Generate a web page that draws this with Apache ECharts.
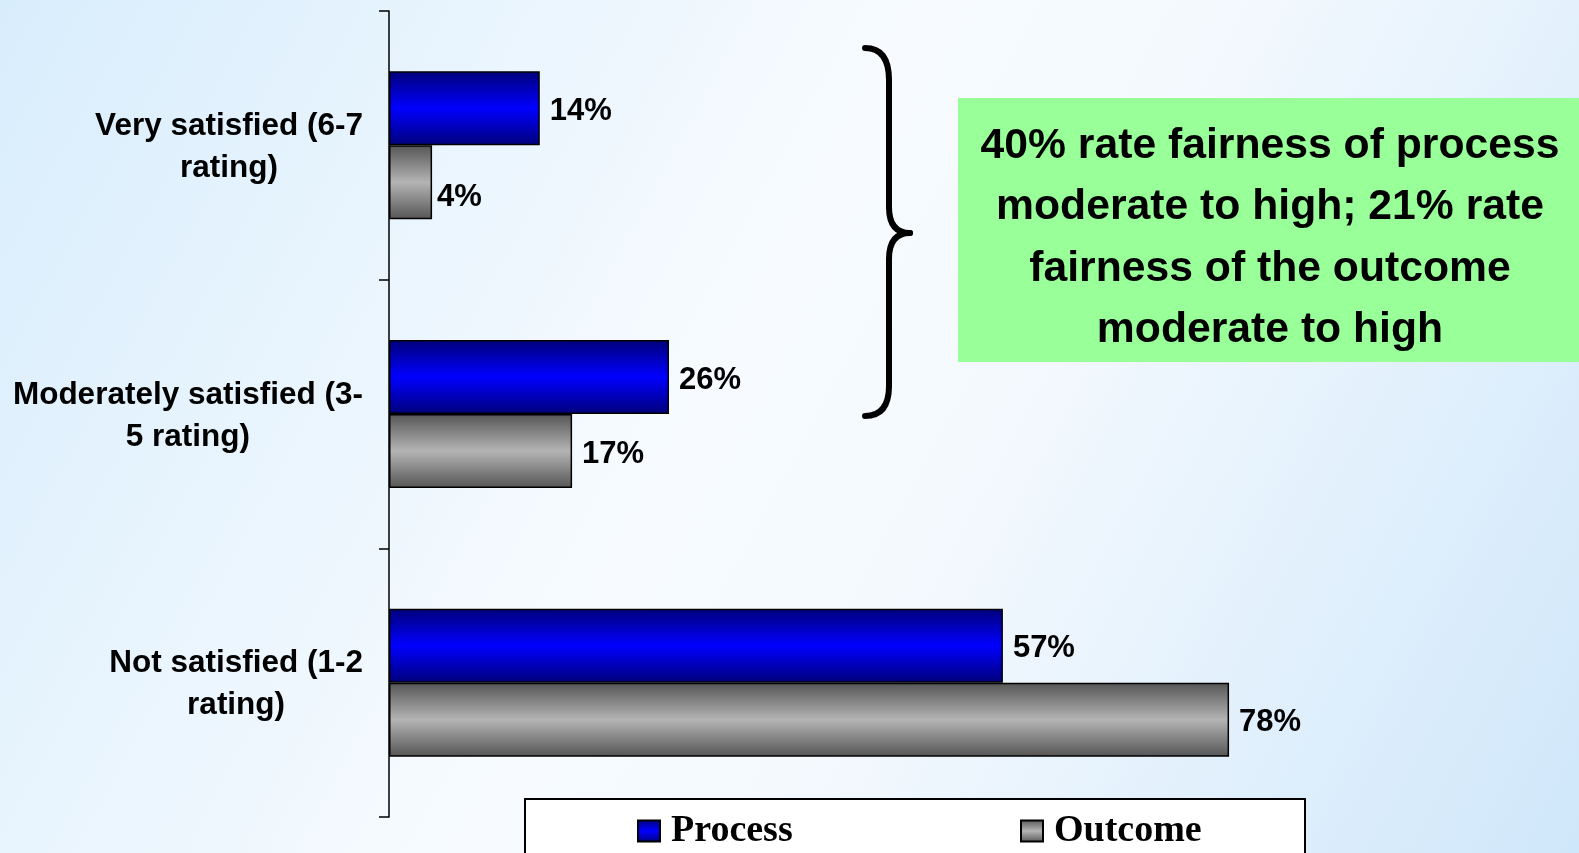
<!DOCTYPE html>
<html>
<head>
<meta charset="utf-8">
<title>Satisfaction with fairness: process vs outcome</title>
<script src="https://cdn.jsdelivr.net/npm/echarts@6/dist/echarts.min.js"></script>
<style>
  html, body { margin: 0; padding: 0; }
  #chart { width: 1579px; height: 853px; }
</style>
</head>
<body>
<div id="chart"></div>
<script>
// Rating groups (top to bottom) and the share of respondents in each
const categories = ['Very satisfied (6-7\nrating)', 'Moderately satisfied (3-\n5 rating)', 'Not satisfied (1-2\nrating)'];
const processValues = [14, 26, 57];
const outcomeValues = [4, 17, 78];
const seriesNames = ['Process', 'Outcome'];
const calloutLines = [
  '40% rate fairness of process',
  'moderate to high; 21% rate',
  'fairness of the outcome',
  'moderate to high'
];

const SANS = '"Liberation Sans", Arial, sans-serif';
const SERIF = '"Liberation Serif", "Times New Roman", serif';

function barGradient(edge, mid) {
  return new echarts.graphic.LinearGradient(0, 0, 0, 1, [
    { offset: 0, color: edge },
    { offset: 0.5, color: mid },
    { offset: 1, color: edge }
  ]);
}

const chart = echarts.init(document.getElementById('chart'), null, { renderer: 'canvas' });

const labelStyle = {
  show: true,
  position: 'right',
  distance: 10,
  offset: [0, 3],
  formatter: '{c}%',
  color: '#000',
  fontFamily: SANS,
  fontWeight: 'bold',
  fontSize: 31
};

// The short top outcome bar has its label nudged below the bar's middle
const outcomeData = outcomeValues.map(function (v, i) {
  return i === 0 ? { value: v, label: { offset: [-5, 15] } } : v;
});

// Brace pieces: quadratic curves and straight runs
const braceStroke = { stroke: '#000', lineWidth: 6, lineCap: 'round', fill: 'none' };
function curve(x1, y1, cx, cy, x2, y2) {
  return { type: 'bezierCurve', z: 2, shape: { x1: x1, y1: y1, cpx1: cx, cpy1: cy, x2: x2, y2: y2 }, style: braceStroke };
}
function segment(x1, y1, x2, y2) {
  return { type: 'line', z: 2, shape: { x1: x1, y1: y1, x2: x2, y2: y2 }, style: braceStroke };
}

const legendText = { color: '#000', fontFamily: SERIF, fontWeight: 'bold', fontSize: 38, padding: [0, 0, 0, 6] };

const option = {
  animation: false,
  backgroundColor: new echarts.graphic.LinearGradient(0, 0, 1, 1, [
    { offset: 0, color: '#d8edfc' },
    { offset: 0.45, color: '#f7fbff' },
    { offset: 0.6, color: '#f4f9fe' },
    { offset: 1, color: '#cfe7fa' }
  ]),
  grid: { left: 389, top: 11, width: 1077, bottom: 36, containLabel: false },
  xAxis: {
    type: 'value',
    min: 0,
    max: 100,
    show: false,
    splitLine: { show: false }
  },
  yAxis: {
    type: 'category',
    inverse: true,
    data: categories,
    axisLine: { show: true, lineStyle: { color: '#000', width: 1.5 } },
    axisTick: { show: true, inside: false, length: 10, lineStyle: { color: '#000', width: 1.5 } },
    axisLabel: {
      margin: 26,
      align: 'right',
      padding: [4, 0, 0, 0],
      formatter: function (v) {
        return v.split('\n').map(function (l) { return '{c|' + l + '}'; }).join('\n');
      },
      rich: {
        c: {
          align: 'center',
          color: '#000',
          fontFamily: SANS,
          fontWeight: 'bold',
          fontSize: 31.5,
          lineHeight: 42
        }
      }
    }
  },
  legend: [
    {
      data: [seriesNames[0]],
      left: 632,
      top: 807,
      z: 10,
      icon: 'rect',
      itemWidth: 22,
      itemHeight: 21,
      textStyle: legendText
    },
    {
      data: [seriesNames[1]],
      left: 1015,
      top: 807,
      z: 10,
      icon: 'rect',
      itemWidth: 22,
      itemHeight: 21,
      textStyle: legendText
    }
  ],
  series: [
    {
      name: seriesNames[0],
      type: 'bar',
      data: processValues,
      barWidth: 74,
      barGap: '0%',
      itemStyle: {
        color: barGradient('#00007a', '#0000ff'),
        borderColor: '#000',
        borderWidth: 1.5
      },
      label: labelStyle
    },
    {
      name: seriesNames[1],
      type: 'bar',
      data: outcomeData,
      barWidth: 74,
      barGap: '0%',
      itemStyle: {
        color: barGradient('#555555', '#b4b4b4'),
        borderColor: '#000',
        borderWidth: 1.5
      },
      label: labelStyle
    }
  ],
  graphic: [
    // legend frame
    {
      type: 'rect',
      z: 1,
      shape: { x: 525, y: 799, width: 780, height: 80 },
      style: { fill: '#ffffff', stroke: '#000', lineWidth: 2 }
    },
    // curly brace grouping the two upper rating groups
    curve(865, 48, 889, 48, 889, 80),
    segment(889, 80, 889, 207),
    curve(889, 207, 889, 233, 910, 233),
    curve(910, 233, 889, 233, 889, 259),
    segment(889, 259, 889, 386),
    curve(889, 386, 889, 416, 865, 416),
    // callout box
    {
      type: 'rect',
      z: 2,
      shape: { x: 958, y: 98, width: 621, height: 264 },
      style: { fill: '#99ff99' }
    },
    {
      type: 'text',
      z: 3,
      x: 1270,
      y: 238,
      style: {
        text: calloutLines.join('\n'),
        align: 'center',
        verticalAlign: 'middle',
        fill: '#000',
        font: 'bold 42.7px ' + SANS,
        lineHeight: 61.5
      }
    }
  ]
};

chart.setOption(option);
</script>
</body>
</html>
